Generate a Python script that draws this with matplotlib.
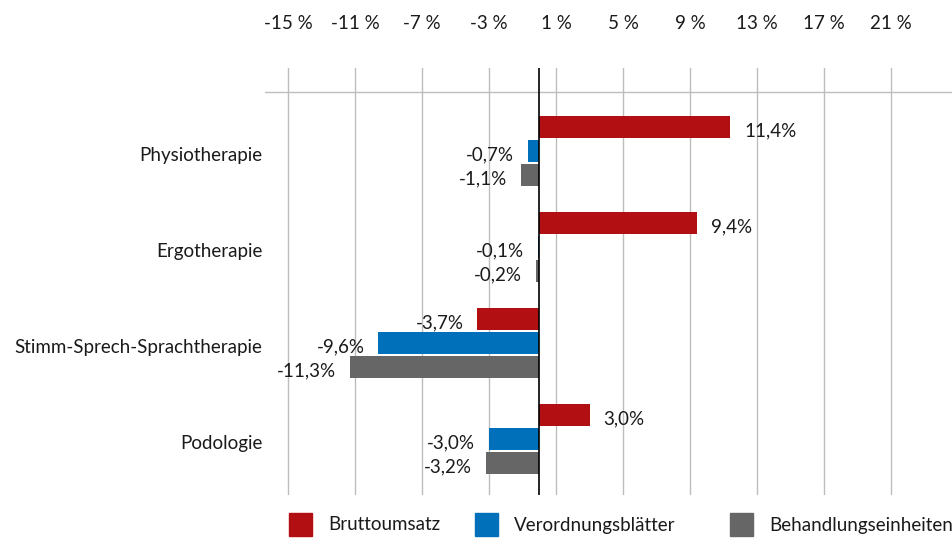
import matplotlib
matplotlib.use('Agg')
import matplotlib.pyplot as plt
import matplotlib.transforms as mtransforms
from matplotlib.patches import Rectangle
import numpy as np

# Daten
categories = ['Physiotherapie', 'Ergotherapie', 'Stimm-Sprech-Sprachtherapie', 'Podologie']
series_names = ['Bruttoumsatz', 'Verordnungsblätter', 'Behandlungseinheiten']
bruttoumsatz = [11.4, 9.4, -3.7, 3.0]
verordnungsblaetter = [-0.7, -0.1, -9.6, -3.0]
behandlungseinheiten = [-1.1, -0.2, -11.3, -3.2]
x_ticks = [-15, -11, -7, -3, 1, 5, 9, 13, 17, 21]

colors = ['#B20F13', '#0070BA', '#666666']
text_color = '#1a1a1a'

plt.rcParams['font.family'] = ['Lato', 'DejaVu Sans']
FS = 13.5

W, H = 952, 547
fig = plt.figure(figsize=(W / 100, H / 100), dpi=100)
ax = fig.add_axes([265 / W, 1 - 495 / H, (952 - 265) / W, (495 - 68) / H])

series = [bruttoumsatz, verordnungsblaetter, behandlungseinheiten]
centers = np.arange(len(categories)) * 4
for k, (vals, col) in enumerate(zip(series, colors)):
    ypos = centers + (k - 1)
    ax.barh(ypos, vals, height=0.9, color=col, zorder=3)
    for y, v in zip(ypos, vals):
        label = f'{v:.1f}%'.replace('.', ',')
        if v >= 0:
            ax.annotate(label, (v, y), xytext=(10, -3), textcoords='offset points',
                        ha='left', va='center', fontsize=FS, color=text_color)
        else:
            ax.annotate(label, (v, y), xytext=(-10, -3), textcoords='offset points',
                        ha='right', va='center', fontsize=FS, color=text_color)

# Gitter
for t in x_ticks:
    ax.axvline(t, color='#bdbdbd', lw=1, zorder=1)
ax.axvline(0, color='black', lw=1.2, zorder=4)
ax.axhline(-2.458, color='#bdbdbd', lw=1, zorder=1)

ax.set_xlim(-16.376, 24.64)
ax.set_ylim(14.333, -3.458)
ax.set_xticks(x_ticks)
ax.set_xticklabels([f'{t} %' for t in x_ticks])
ax.xaxis.tick_top()
ax.tick_params(axis='x', length=0, pad=26, labelsize=FS, colors=text_color)
ax.set_yticks([])

# Kategorien
trans = mtransforms.blended_transform_factory(ax.transAxes, ax.transData)
off = mtransforms.ScaledTranslation(-2 / 72, -3 / 72, fig.dpi_scale_trans)
for c, name in zip(centers, categories):
    ax.text(0, c, name, transform=trans + off, ha='right', va='center',
            fontsize=FS, color=text_color)

for s in ax.spines.values():
    s.set_visible(False)

# Legende
legend_x = [289, 475, 730]
for x0, col, name in zip(legend_x, colors, series_names):
    fig.add_artist(Rectangle((x0 / W, 1 - 536 / H), 23 / W, 23 / H,
                             transform=fig.transFigure, color=col))
    fig.text((x0 + 39) / W, 1 - 525 / H, name, ha='left', va='center',
             fontsize=FS, color=text_color)

plt.savefig('out.png', dpi=100)
plt.close()
